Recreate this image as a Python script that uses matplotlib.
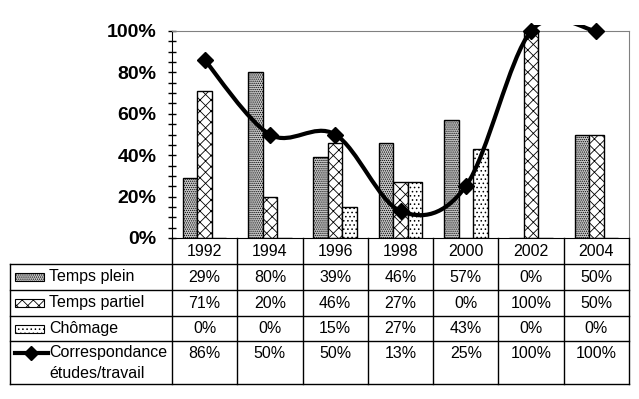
import matplotlib
matplotlib.use("Agg")
import matplotlib.pyplot as plt
from matplotlib.path import Path
from matplotlib.patches import PathPatch, Rectangle
from matplotlib.lines import Line2D
from matplotlib.ticker import MultipleLocator, PercentFormatter
import numpy as np

years = ["1992", "1994", "1996", "1998", "2000", "2002", "2004"]
temps_plein = [29, 80, 39, 46, 57, 0, 50]
temps_partiel = [71, 20, 46, 27, 0, 100, 50]
chomage = [0, 0, 15, 27, 43, 0, 0]
correspondance = [86, 50, 50, 13, 25, 100, 100]

series_names = ["Temps plein", "Temps partiel", "Chômage"]
line_name = ["Correspondance", "études/travail"]

plt.rcParams['font.family'] = ['Liberation Sans', 'DejaVu Sans']
plt.rcParams['hatch.linewidth'] = 0.6

W, H = 639, 399
fig = plt.figure(figsize=(W / 100, H / 100), dpi=100)


def fx(x):
    return x / W


def fy(y):
    return 1 - y / H


# plot area in pixels
x0, x1 = 172, 629
ytop, ybot = 31, 238
ax = fig.add_axes([fx(x0), fy(ybot), fx(x1 - x0), (ybot - ytop) / H])

n = len(years)
xs = np.arange(n)
bw = 0.223
hatches = ['........', 'xxx', '....']
faces = ['#c8c8c8', 'white', 'white']
data = [temps_plein, temps_partiel, chomage]
for k in range(3):
    vals = np.array(data[k]) / 100
    ax.bar(xs + (k - 1) * bw, vals, bw, color=faces[k], edgecolor='black',
           hatch=hatches[k], linewidth=1)

# smoothed line (bezier through the points, excel style)
pts = np.column_stack([xs, np.array(correspondance) / 100])
verts = [tuple(pts[0])]
codes = [Path.MOVETO]
for i in range(n - 1):
    p0 = pts[max(i - 1, 0)]
    p1 = pts[i]
    p2 = pts[i + 1]
    p3 = pts[min(i + 2, n - 1)]
    c1 = p1 + (p2 - p0) / 6
    c2 = p2 - (p3 - p1) / 6
    verts += [tuple(c1), tuple(c2), tuple(p2)]
    codes += [Path.CURVE4] * 3
curve = PathPatch(Path(verts, codes), facecolor='none', edgecolor='black',
                  linewidth=3, transform=ax.transData, zorder=3)
ax.add_patch(curve)
clip = Rectangle((-0.5, 0), n, 1.03, transform=ax.transData)
curve.set_clip_path(clip)
ax.plot(xs, pts[:, 1], linestyle='none', marker='D', markersize=8,
        color='black', clip_on=False, zorder=4)

ax.set_xlim(-0.5, n - 0.5)
ax.set_ylim(0, 1)
ax.yaxis.set_major_locator(MultipleLocator(0.2))
ax.yaxis.set_minor_locator(MultipleLocator(0.05))
ax.yaxis.set_major_formatter(PercentFormatter(1.0, decimals=0))
ax.tick_params(axis='y', which='both', direction='inout', length=6, width=1)
ax.tick_params(axis='y', which='major', pad=8, labelsize=14)
for lab in ax.get_yticklabels():
    lab.set_fontweight('bold')
ax.set_xticks([])
ax.spines['top'].set_color('#808080')
ax.spines['right'].set_color('#808080')
ax.spines['left'].set_color('black')
ax.spines['bottom'].set_color('black')

# data table
cw = (x1 - x0) / n
tl = 10
rows_y = [238, 264, 290, 316, 341, 384]
lw = 1


def hline(y, xa, xb):
    fig.add_artist(Line2D([fx(xa), fx(xb)], [fy(y), fy(y)], color='black', lw=lw))


def vline(x, ya, yb):
    fig.add_artist(Line2D([fx(x), fx(x)], [fy(ya), fy(yb)], color='black', lw=lw))


for y in rows_y[1:]:
    hline(y, tl, x1)
for j in range(n + 1):
    vline(x0 + j * cw, rows_y[0], rows_y[-1])
vline(tl, rows_y[1], rows_y[-1])

fs = 11.5
for j in range(n):
    cx = fx(x0 + (j + 0.5) * cw)
    fig.text(cx, fy((rows_y[0] + rows_y[1]) / 2), years[j], ha='center', va='center', fontsize=fs)
    for r, vals in enumerate(data):
        fig.text(cx, fy((rows_y[r + 1] + rows_y[r + 2]) / 2), f"{vals[j]}%",
                 ha='center', va='center', fontsize=fs)
    fig.text(cx, fy(353), f"{correspondance[j]}%", ha='center', va='center', fontsize=fs)

for r in range(3):
    yc = (rows_y[r + 1] + rows_y[r + 2]) / 2
    fig.add_artist(Rectangle((fx(15), fy(yc + 4)), fx(29), 8 / H, facecolor=faces[r],
                             edgecolor='black', hatch=hatches[r], lw=0.8))
    fig.text(fx(49), fy(yc), series_names[r], ha='left', va='center', fontsize=fs)

fig.add_artist(Line2D([fx(15), fx(48)], [fy(353), fy(353)], color='black', lw=3))
fig.add_artist(Line2D([fx(31)], [fy(353)], marker='D', markersize=7, color='black'))
fig.text(fx(49), fy(353), line_name[0], ha='left', va='center', fontsize=fs)
fig.text(fx(49), fy(374), line_name[1], ha='left', va='center', fontsize=fs)

fig.savefig("out.png", dpi=100)
